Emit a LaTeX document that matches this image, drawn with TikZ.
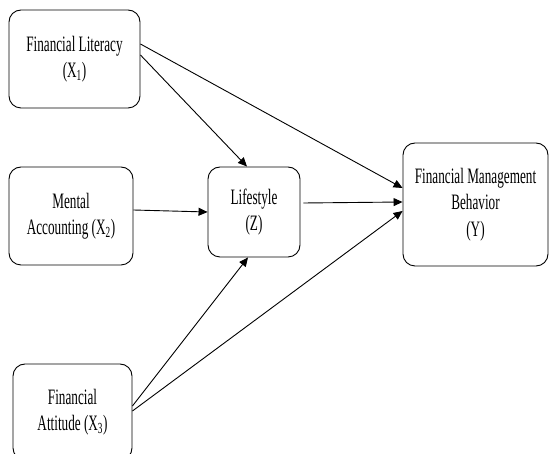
\documentclass[tikz,border=0pt]{standalone}
\usepackage{fontspec}
\setmainfont{Liberation Serif}[FakeStretch=0.6]
\usetikzlibrary{arrows.meta}

\begin{document}
\begin{tikzpicture}[
        x=1pt, y=-1pt,
        variable box/.style={draw, rectangle, rounded corners=12pt, line width=0.9pt, align=center, inner sep=0pt, font=\fontsize{22}{26.5}\selectfont},
        path arrow/.style={-{Triangle[length=9pt, width=8pt]}, line width=0.9pt},
    ]

    \useasboundingbox (0,0) rectangle (550,454);

    % Independent variables
    \node[variable box, minimum width=131pt, minimum height=98pt] (literacy) at (74.5,59) {Financial Literacy\\(X\textsubscript{1})};
    \node[variable box, minimum width=124pt, minimum height=98pt] (accounting) at (71,216) {Mental\\Accounting (X\textsubscript{2})};
    \node[variable box, minimum width=119pt, minimum height=96pt] (attitude) at (72.5,412) {Financial\\Attitude (X\textsubscript{3})};

    % Intervening variable
    \node[variable box, minimum width=92pt, minimum height=90pt] (lifestyle) at (254,212) {Lifestyle\\(Z)};

    % Dependent variable
    \node[variable box, minimum width=145pt, minimum height=123pt] (behavior) at (475.5,204.5) {Financial Management\\Behavior\\(Y)};

    % Paths to lifestyle
    \draw[path arrow] ([yshift=4pt]literacy.east) -- ([xshift=-7pt]lifestyle.north);
    \draw[path arrow] ([yshift=6pt]accounting.east) -- (lifestyle.west);
    \draw[path arrow] ([yshift=6pt]attitude.east) -- ([xshift=-6pt]lifestyle.south);

    % Paths to financial management behavior
    \draw[path arrow] ([yshift=15pt]literacy.east) -- ([yshift=16.5pt]behavior.west);
    \draw[path arrow] ([xshift=3pt,yshift=9pt]lifestyle.east) -- ([yshift=2.5pt]behavior.west);
    \draw[path arrow] ([yshift=1pt]attitude.east) -- ([yshift=-6.5pt]behavior.west);

\end{tikzpicture}
\end{document}
